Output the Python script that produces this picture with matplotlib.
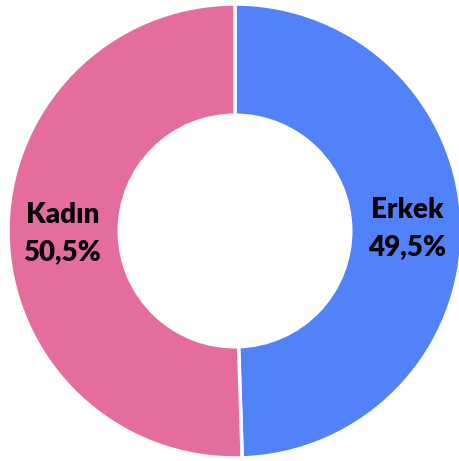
import matplotlib
matplotlib.use("Agg")
import matplotlib.pyplot as plt

categories = ["Erkek", "Kadın"]
values = [49.5, 50.5]
colors = ["#5282FA", "#E56D9E"]

fig = plt.figure(figsize=(4.59, 4.61), dpi=100)
ax = fig.add_axes([8/459, 3/461, 454/459, 454/461])
labels = [f"{c}\n{str(v).replace('.', ',')}%" for c, v in zip(categories, values)]
wedges, texts = ax.pie(values, colors=colors, startangle=90, counterclock=False,
                       labels=labels, labeldistance=0.76,
                       wedgeprops=dict(width=0.49, edgecolor="white", linewidth=2.5),
                       textprops=dict(fontsize=20, fontweight="heavy", family="Lato",
                                      ha="center", va="center", linespacing=1.55))
ax.set_xlim(-1, 1)
ax.set_ylim(-1, 1)
ax.set_aspect("auto")
ax.axis("off")
fig.savefig("out.png", dpi=100)
